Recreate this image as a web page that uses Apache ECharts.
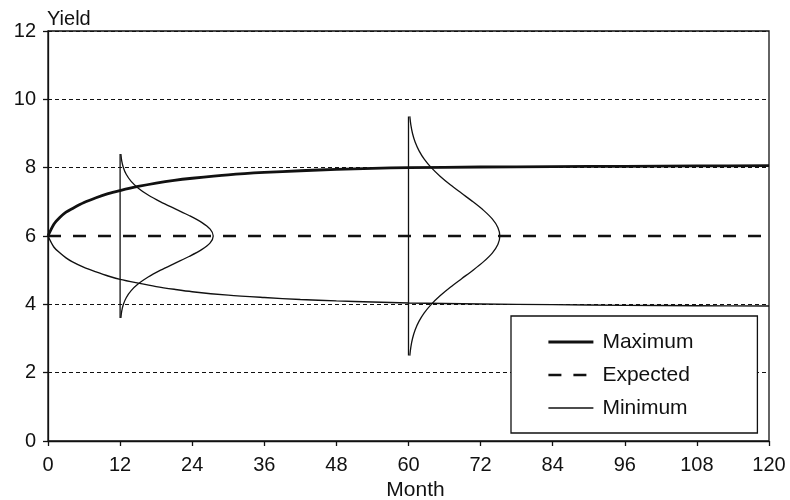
<!DOCTYPE html>
<html>
<head>
<meta charset="utf-8">
<script src="https://cdn.jsdelivr.net/npm/echarts@6/dist/echarts.min.js"></script>
<style>html,body{margin:0;padding:0;background:#fff}#c{width:790px;height:500px}</style>
</head>
<body>
<div id="c"></div>
<script>
// ---- data ----
var months = [0, 1, 2, 3, 4, 6, 8, 10, 12, 15, 18, 21, 24, 30, 36, 42, 48, 54, 60, 72, 84, 96, 108, 120];
var maximumYield = [6.0, 6.35, 6.55, 6.7, 6.8, 6.98, 7.12, 7.24, 7.33, 7.45, 7.55, 7.63, 7.69, 7.79, 7.86, 7.91, 7.95, 7.98, 8.0, 8.02, 8.03, 8.04, 8.05, 8.06];
var minimumYield = [6.0, 5.67, 5.5, 5.36, 5.25, 5.08, 4.95, 4.83, 4.73, 4.62, 4.52, 4.44, 4.37, 4.27, 4.2, 4.14, 4.1, 4.07, 4.04, 4.01, 3.99, 3.97, 3.96, 3.95];
var expectedMonths = [0, 120];
var expectedYield = [6, 6];

// distribution drawn at month 12
var dist12Yield = [8.4, 8.2, 8.0, 7.8, 7.6, 7.4, 7.2, 7.0, 6.8, 6.6, 6.4, 6.2, 6.0, 5.8, 5.6, 5.4, 5.2, 5.0, 4.8, 4.6, 4.4, 4.2, 4.0, 3.8, 3.6];
var dist12Month = [12.13, 12.27, 12.55, 13.04, 13.84, 15.03, 16.67, 18.74, 21.09, 23.48, 25.57, 26.99, 27.5, 26.99, 25.57, 23.48, 21.09, 18.74, 16.67, 15.03, 13.84, 13.04, 12.55, 12.27, 12.13];
var dist12Base = [[12, 3.6], [12, 8.4]];

// distribution drawn at month 60
var dist60Yield = [9.5, 9.25, 9.0, 8.75, 8.5, 8.25, 8.0, 7.75, 7.5, 7.25, 7.0, 6.75, 6.5, 6.25, 6.0, 5.75, 5.5, 5.25, 5.0, 4.75, 4.5, 4.25, 4.0, 3.75, 3.5, 3.25, 3.0, 2.75, 2.5];
var dist60Month = [60.22, 60.39, 60.67, 61.10, 61.74, 62.62, 63.79, 65.25, 66.96, 68.84, 70.74, 72.50, 73.94, 74.87, 75.2, 74.87, 73.94, 72.50, 70.74, 68.84, 66.96, 65.25, 63.79, 62.62, 61.74, 61.10, 60.67, 60.39, 60.22];
var dist60Base = [[60, 2.5], [60, 9.5]];

var legendNames = ['Maximum', 'Expected', 'Minimum'];

function pairs(xs, ys) { return xs.map(function (x, i) { return [x, ys[i]]; }); }

var FONT = '"Liberation Sans", Arial, sans-serif';
var INK = '#111';
var NONE = 'rgba(0,0,0,0)';

var chart = echarts.init(document.getElementById('c'), null, { renderer: 'canvas' });
chart.setOption({
  animation: false,
  backgroundColor: '#fff',
  textStyle: { fontFamily: FONT, color: INK },
  grid: { left: 48, right: 21, top: 31, bottom: 59, containLabel: false, outerBoundsMode: 'none',
          show: true, borderColor: INK, borderWidth: 1.3, backgroundColor: 'transparent' },
  xAxis: {
    type: 'value', min: 0, max: 120, interval: 12,
    name: 'Month', nameLocation: 'middle', nameGap: 36,
    nameTextStyle: { fontFamily: FONT, fontSize: 21, color: INK, padding: [0, 0, 0, 14] },
    axisLine: { show: true, lineStyle: { color: INK, width: 1.3 } },
    axisTick: { show: true, inside: false, length: 5, lineStyle: { color: INK, width: 1.3 } },
    axisLabel: { margin: 14, fontFamily: FONT, fontSize: 20, color: INK },
    splitLine: { show: false }
  },
  yAxis: {
    type: 'value', min: 0, max: 12, interval: 2,
    name: 'Yield', nameLocation: 'end', nameGap: 2,
    nameTextStyle: { fontFamily: FONT, fontSize: 20, color: INK, align: 'left', verticalAlign: 'bottom', padding: [0, 0, 0, -1] },
    axisLine: { show: true, lineStyle: { color: INK, width: 1.3 } },
    axisTick: { show: true, inside: false, length: 5, lineStyle: { color: INK, width: 1.3 } },
    axisLabel: { margin: 12, fontFamily: FONT, fontSize: 20, color: INK },
    splitLine: { show: true, lineStyle: { color: [INK, INK, INK, NONE, INK, INK, INK], width: 1, type: [4, 3] } }
  },
  legend: {
    show: true, orient: 'vertical', left: 511, top: 316,
    data: legendNames,
    backgroundColor: '#fff', borderColor: INK, borderWidth: 1.3,
    padding: [15, 64, 14, 36],
    itemWidth: 45, itemHeight: 22, itemGap: 11,
    itemStyle: { color: NONE, borderWidth: 0, opacity: 0 },
    lineStyle: { width: 'inherit', type: 'inherit', color: 'inherit' },
    textStyle: { fontFamily: FONT, fontSize: 21, color: INK, padding: [0, 0, 0, 4], lineHeight: 22 },
    selectedMode: false
  },
  series: [
    { name: 'Maximum', type: 'line', data: pairs(months, maximumYield), smooth: 0.3, symbol: 'none', z: 5,
      lineStyle: { color: INK, width: 2.8 }, itemStyle: { color: INK } },
    { name: 'Expected', type: 'line', data: pairs(expectedMonths, expectedYield), symbol: 'none', z: 4,
      lineStyle: { color: INK, width: 2.5, type: [13, 12] }, itemStyle: { color: INK } },
    { name: 'Minimum', type: 'line', data: pairs(months, minimumYield), smooth: 0.3, symbol: 'none', z: 5,
      lineStyle: { color: INK, width: 1.4 }, itemStyle: { color: INK } },
    { name: 'dist12', type: 'line', data: pairs(dist12Month, dist12Yield), smooth: 0.3, symbol: 'none', z: 6,
      lineStyle: { color: INK, width: 1.3 } },
    { name: 'base12', type: 'line', data: dist12Base, symbol: 'none', z: 6,
      lineStyle: { color: INK, width: 1.3 } },
    { name: 'dist60', type: 'line', data: pairs(dist60Month, dist60Yield), smooth: 0.3, symbol: 'none', z: 6,
      lineStyle: { color: INK, width: 1.3 } },
    { name: 'base60', type: 'line', data: dist60Base, symbol: 'none', z: 6,
      lineStyle: { color: INK, width: 1.3 } }
  ]
});
</script>
</body>
</html>
